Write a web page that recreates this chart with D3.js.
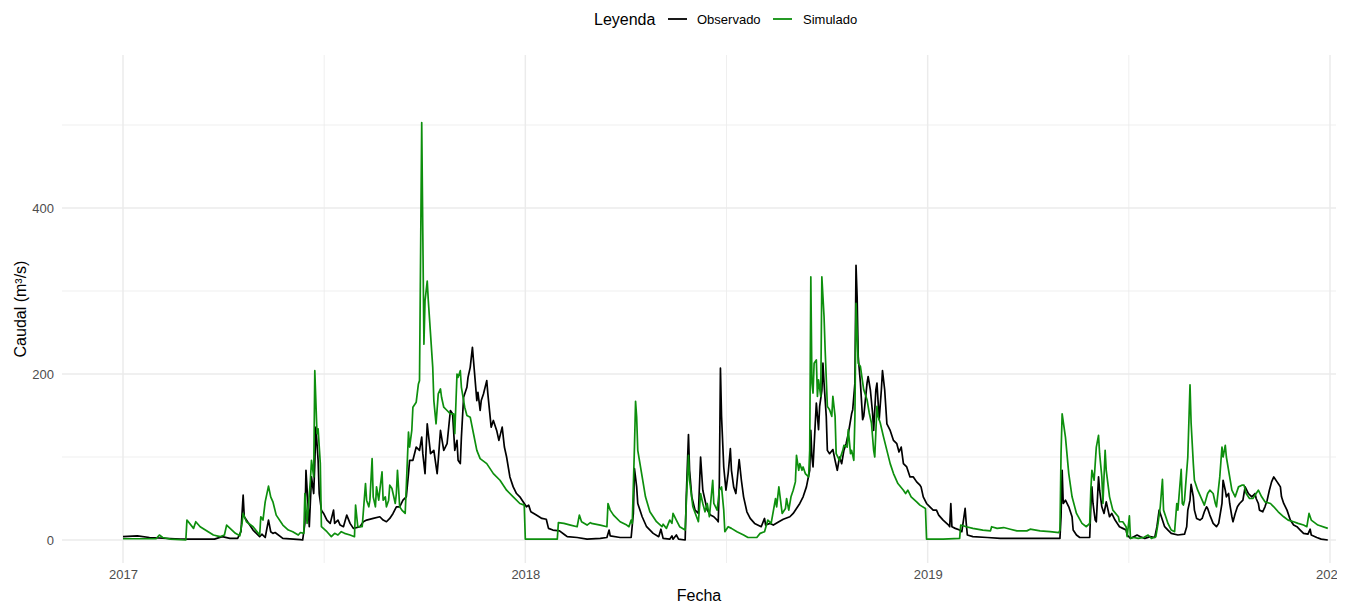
<!DOCTYPE html>
<html><head><meta charset="utf-8">
<script src="https://cdn.jsdelivr.net/npm/d3@7"></script>
<style>
body{margin:0;background:#fff;}
svg{display:block;font-family:"Liberation Sans",Arial,Helvetica,sans-serif;}
</style>
</head><body>
<svg id="chart" width="1354" height="604"></svg>
<script>
// ---------------- DATA ----------------
const startDate = "2017-01-01";           // day 0 of the records
const yearTicks = ["2017", "2018", "2019", "2020"];
const yTicks = [0, 200, 400];
const yMinorTicks = [100, 300, 500];
const seriesNames = ["Observado", "Simulado"];
const legendTitle = "Leyenda";
const xTitle = "Fecha";
const yTitle = "Caudal (m³/s)";

// [days since startDate, caudal m3/s]
const observado = [[0,4],[13,5],[24,3],[52,1],[83,1],[90,4],[97,2],[104,2],[107,10],[109,54],[110,28],[118,12],[124,4],[126,7],[129,3],[132,24],[134,10],[136,8],[138,9],[145,2],[161,0.5],[163,0],[165,20],[166,84],[169,16],[171,76],[173,56],[174,92],[175,136],[177,96],[178,56],[180,36],[182,32],[185,24],[188,20],[191,36],[192,20],[195,24],[197,18],[200,16],[203,30],[206,20],[209,14],[215,16],[218,22],[221,24],[227,26],[233,28],[236,24],[239,22],[242,26],[245,32],[248,40],[251,40],[254,48],[257,52],[259,80],[260,96],[263,96],[266,112],[269,108],[271,124],[272,104],[274,80],[276,140],[277,128],[279,104],[282,108],[285,80],[286,96],[288,132],[291,108],[294,116],[297,156],[299,152],[301,108],[303,120],[304,96],[306,92],[307,124],[309,172],[312,184],[313,196],[315,208],[317,232],[318,216],[321,168],[322,178],[324,156],[325,168],[327,176],[330,192],[331,176],[334,136],[336,144],[339,132],[341,120],[344,136],[346,112],[348,100],[351,76],[354,64],[357,56],[360,52],[363,46],[366,40],[368,42],[370,34],[375,30],[380,26],[384,25],[386,14],[390,12],[396,11],[401,6],[403,4],[412,3],[421,1],[433,2],[439,3],[441,12],[442,5],[451,3],[461,3],[463,32],[464,86],[466,64],[467,44],[471,28],[475,16],[481,8],[486,4],[488,13],[490,2],[496,1],[498,5],[499,1],[502,6],[504,1],[510,0],[511,52],[513,127],[514,84],[516,52],[519,36],[522,32],[524,100],[526,60],[530,36],[533,30],[536,28],[539,24],[540,22],[541,68],[542,207],[543,149],[545,88],[547,60],[549,80],[551,110],[552,84],[554,64],[556,56],[559,97],[561,72],[563,52],[566,34],[569,26],[573,20],[579,16],[582,26],[583,18],[587,20],[590,18],[595,22],[599,25],[605,28],[608,32],[611,38],[614,44],[617,52],[620,64],[623,84],[624,132],[625,100],[626,88],[628,140],[629,165],[631,133],[632,161],[634,180],[635,213],[636,189],[638,149],[639,108],[641,104],[644,109],[646,96],[648,84],[650,100],[652,92],[654,108],[656,116],[658,128],[661,152],[662,157],[664,189],[665,331],[666,293],[667,221],[669,189],[671,145],[672,149],[675,189],[676,197],[678,181],[680,153],[681,132],[683,181],[684,189],[686,145],[688,181],[689,204],[691,181],[693,140],[696,132],[699,120],[702,116],[704,106],[706,112],[708,92],[711,88],[714,76],[717,76],[720,70],[723,66],[724,64],[726,52],[729,44],[732,40],[735,36],[738,36],[740,30],[744,24],[749,18],[750,16],[751,44],[752,16],[755,14],[759,12],[761,10],[764,38],[765,20],[766,6],[771,4],[784,3],[796,2],[826,2],[850,2],[851,28],[852,84],[853,44],[855,48],[858,40],[861,28],[862,12],[865,6],[868,3],[877,3],[878,40],[879,64],[880,44],[882,24],[883,22],[885,76],[886,60],[888,40],[890,32],[892,46],[895,28],[897,32],[900,24],[904,16],[907,14],[910,12],[911,6],[914,2],[917,4],[920,6],[923,4],[927,2],[932,4],[936,3],[938,16],[940,36],[942,28],[945,16],[948,12],[951,8],[957,6],[963,7],[965,16],[966,36],[968,48],[969,67],[971,52],[972,36],[974,26],[977,24],[979,26],[981,34],[983,40],[984,38],[986,30],[989,20],[992,16],[994,20],[997,44],[998,72],[1000,60],[1001,52],[1003,56],[1004,44],[1006,28],[1007,22],[1009,32],[1011,40],[1013,44],[1016,48],[1018,64],[1021,56],[1024,52],[1027,56],[1028,50],[1030,44],[1031,36],[1034,34],[1036,40],[1038,48],[1040,60],[1042,70],[1044,76],[1047,70],[1048,68],[1050,64],[1051,52],[1053,44],[1056,36],[1059,24],[1062,18],[1065,16],[1068,12],[1071,8],[1075,7],[1077,13],[1078,6],[1083,3],[1087,1],[1093,0]];

const simulado = [[0,1.5],[30,1.5],[33,6],[36,3],[43,1],[57,0],[58,24],[64,14],[66,22],[70,16],[82,6],[88,4],[92,6],[94,18],[102,8],[106,5],[108,20],[109,32],[112,22],[118,16],[124,6],[125,28],[127,24],[129,46],[132,65],[134,52],[136,46],[139,30],[145,18],[150,12],[154,10],[159,6],[161,9],[164,8],[165,56],[167,20],[170,72],[171,96],[173,76],[174,204],[176,128],[177,134],[179,92],[180,16],[185,10],[189,4],[192,8],[195,6],[198,10],[201,8],[206,6],[210,4],[211,42],[213,16],[217,16],[220,68],[221,48],[223,40],[224,48],[226,98],[227,52],[229,40],[230,64],[232,48],[233,60],[235,82],[236,48],[238,52],[239,40],[241,48],[242,66],[244,62],[245,56],[247,44],[248,56],[249,84],[251,40],[253,36],[256,32],[257,64],[259,130],[260,112],[262,132],[263,160],[266,166],[268,188],[269,192],[271,503],[272,368],[273,236],[274,288],[276,312],[277,288],[279,248],[281,208],[282,168],[284,140],[286,176],[288,182],[289,172],[291,160],[294,156],[297,152],[300,152],[301,128],[303,200],[304,196],[306,204],[307,184],[309,168],[310,160],[312,150],[315,148],[318,128],[321,108],[324,98],[330,92],[336,80],[342,72],[348,60],[354,52],[360,44],[364,42],[365,1],[394,1],[395,21],[400,20],[406,18],[412,16],[414,30],[416,22],[421,18],[424,21],[425,20],[433,18],[439,16],[440,44],[442,36],[445,30],[451,22],[457,18],[459,16],[461,24],[462,20],[464,112],[465,167],[466,148],[467,108],[471,76],[474,52],[478,34],[484,22],[489,16],[490,19],[493,14],[496,24],[498,20],[499,32],[502,24],[505,16],[510,12],[511,44],[513,102],[514,72],[517,40],[522,22],[524,56],[526,44],[528,34],[530,44],[532,28],[535,72],[536,44],[539,36],[541,60],[543,64],[545,36],[546,10],[549,16],[552,14],[557,10],[563,6],[567,3],[575,3],[578,8],[582,10],[585,24],[588,20],[592,50],[593,40],[595,64],[598,32],[601,38],[602,50],[604,36],[606,52],[608,60],[610,70],[611,102],[613,84],[614,92],[616,84],[617,88],[619,80],[622,76],[623,108],[624,317],[625,189],[626,177],[627,213],[629,217],[630,173],[631,193],[633,173],[634,317],[636,269],[637,229],[639,161],[641,157],[643,149],[644,173],[646,149],[647,104],[650,96],[653,108],[654,114],[657,112],[658,133],[660,104],[661,108],[663,96],[664,149],[665,285],[667,213],[669,209],[672,181],[675,169],[677,153],[679,141],[681,108],[682,100],[684,161],[685,149],[687,141],[690,124],[693,108],[696,92],[699,80],[703,68],[708,60],[710,56],[712,60],[715,52],[720,46],[723,42],[728,38],[729,1],[744,1],[759,2],[760,18],[765,16],[771,14],[780,12],[787,11],[788,16],[793,14],[799,15],[805,13],[811,11],[820,11],[823,13],[832,11],[841,10],[849,9],[850,12],[851,104],[852,152],[855,124],[858,80],[861,52],[865,32],[870,20],[874,16],[877,20],[878,60],[879,84],[881,72],[882,92],[883,112],[885,126],[886,104],[888,76],[889,44],[891,108],[892,84],[895,52],[898,36],[903,28],[904,22],[907,22],[910,16],[911,4],[913,29],[914,2],[917,3],[921,2],[926,3],[930,6],[933,2],[937,4],[939,20],[941,40],[943,73],[944,36],[946,28],[948,20],[951,12],[954,10],[956,44],[957,36],[960,85],[961,44],[962,42],[963,48],[966,100],[968,187],[969,141],[971,92],[972,72],[975,60],[979,48],[981,42],[984,56],[986,60],[989,56],[991,44],[992,40],[995,76],[997,112],[998,100],[1000,114],[1001,100],[1003,84],[1006,60],[1009,52],[1012,64],[1015,66],[1017,66],[1019,56],[1022,50],[1025,50],[1028,56],[1030,60],[1033,52],[1036,46],[1041,44],[1044,40],[1048,34],[1053,28],[1057,24],[1062,22],[1066,20],[1071,18],[1074,16],[1076,32],[1078,24],[1081,21],[1084,18],[1093,14]];

// ---------------- CHART ----------------
const svg = d3.select("#chart");
const panel = {left: 62, right: 1336, top: 55, bottom: 563};
const colors = {Observado: "#000000", Simulado: "#0d8f0d"};
const parse = d3.timeParse("%Y-%m-%d");
const t0 = parse(startDate);
const toDate = d => d3.timeDay.offset(t0, d);
const yearDates = yearTicks.map(y => parse(y + "-01-01"));

const x = d3.scaleTime().domain([yearDates[0], yearDates[yearDates.length - 1]]).range([123, 1330]);
const y = d3.scaleLinear().domain([0, 400]).range([540, 208]);

const defs = svg.append("defs");
defs.append("clipPath").attr("id", "panelClip").append("rect")
  .attr("x", panel.left).attr("y", panel.top)
  .attr("width", panel.right - panel.left).attr("height", panel.bottom - panel.top);
defs.append("clipPath").attr("id", "pageClip").append("rect")
  .attr("x", 0).attr("y", 0).attr("width", 1337).attr("height", 604);

// grid
const grid = svg.append("g");
const majorX = yearDates.map(d => x(d));
const minorX = d3.pairs(majorX).map(([a, b]) => (a + b) / 2);
grid.selectAll(".hminor").data(yMinorTicks).join("line")
  .attr("x1", panel.left).attr("x2", panel.right)
  .attr("y1", d => y(d)).attr("y2", d => y(d))
  .attr("stroke", "#EBEBEB").attr("stroke-width", 0.8);
grid.selectAll(".vminor").data(minorX).join("line")
  .attr("x1", d => d).attr("x2", d => d)
  .attr("y1", panel.top).attr("y2", panel.bottom)
  .attr("stroke", "#EBEBEB").attr("stroke-width", 0.8);
grid.selectAll(".hmajor").data(yTicks).join("line")
  .attr("x1", panel.left).attr("x2", panel.right)
  .attr("y1", d => y(d)).attr("y2", d => y(d))
  .attr("stroke", "#EBEBEB").attr("stroke-width", 1.5);
grid.selectAll(".vmajor").data(majorX).join("line")
  .attr("x1", d => d).attr("x2", d => d)
  .attr("y1", panel.top).attr("y2", panel.bottom)
  .attr("stroke", "#EBEBEB").attr("stroke-width", 1.5);

// lines
const line = d3.line().x(d => x(toDate(d[0]))).y(d => y(d[1]));
const plot = svg.append("g").attr("clip-path", "url(#panelClip)");
[["Observado", observado], ["Simulado", simulado]].forEach(([name, data]) => {
  plot.append("path").datum(data)
    .attr("d", line)
    .attr("fill", "none")
    .attr("stroke", colors[name])
    .attr("stroke-width", 1.7)
    .attr("stroke-linejoin", "round");
});

// axes (text only, theme_minimal)
const yAxis = svg.append("g").attr("transform", `translate(${panel.left - 8},0)`)
  .call(d3.axisLeft(y).tickValues(yTicks).tickSize(0).tickPadding(0));
yAxis.select(".domain").remove();
yAxis.selectAll("text").attr("fill", "#4D4D4D").style("font-size", "13px")
  .style("font-family", '"Liberation Sans",Arial,sans-serif');

const xAxis = svg.append("g").attr("clip-path", "url(#pageClip)")
  .append("g").attr("transform", `translate(0,${panel.bottom + 7})`)
  .call(d3.axisBottom(x).tickValues(yearDates).tickFormat(d3.timeFormat("%Y")).tickSize(0).tickPadding(0));
xAxis.select(".domain").remove();
xAxis.selectAll("text").attr("fill", "#4D4D4D").style("font-size", "13px")
  .style("font-family", '"Liberation Sans",Arial,sans-serif');

// titles
svg.append("text").attr("x", (panel.left + panel.right) / 2).attr("y", 595)
  .attr("text-anchor", "middle").attr("dominant-baseline", "central")
  .style("font-size", "16px").attr("fill", "#000").text(xTitle);
svg.append("text").attr("transform", `translate(20,309) rotate(-90)`)
  .attr("text-anchor", "middle").attr("dominant-baseline", "central")
  .style("font-size", "16px").attr("fill", "#000").text(yTitle);

// legend
const lg = svg.append("g");
lg.append("text").attr("x", 594).attr("y", 19).attr("dominant-baseline", "central")
  .style("font-size", "16px").attr("fill", "#000").text(legendTitle);
const keyPos = [{k: 668, t: 697}, {k: 773, t: 803}];
seriesNames.forEach((name, i) => {
  lg.append("line").attr("x1", keyPos[i].k).attr("x2", keyPos[i].k + 19)
    .attr("y1", 19).attr("y2", 19).attr("stroke", colors[name]).attr("stroke-width", 1.8);
  lg.append("text").attr("x", keyPos[i].t).attr("y", 19).attr("dominant-baseline", "central")
    .style("font-size", "13px").attr("fill", "#000").text(name);
});
</script>
</body></html>
